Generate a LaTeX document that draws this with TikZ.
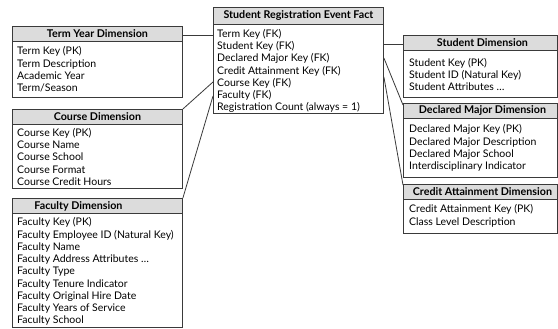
\documentclass[tikz,border=0pt]{standalone}
\usepackage{fontspec}
\setmainfont{Lato}
\usetikzlibrary{calc}
\definecolor{linec}{HTML}{3A3A3A}
\definecolor{headc}{HTML}{DCDCDC}
\newcommand{\bfnt}{\fontsize{10.5}{12.25}\selectfont}
\newcommand{\hfnt}{\fontsize{10.7}{12}\selectfont\bfseries}
\tikzset{
  boxframe/.style={draw=linec, line width=0.9pt, inner sep=0pt, anchor=north west},
  headbar/.style={draw=linec, fill=headc, line width=0.9pt, inner sep=0pt, anchor=north west, font=\hfnt},
  bodytext/.style={inner sep=0pt, anchor=north west, align=left, font=\bfnt, text=black},
  link/.style={draw=linec, line width=0.8pt}
}
\begin{document}
\begin{tikzpicture}[x=1pt,y=-1pt]
\useasboundingbox (0,0) rectangle (558,329);
\fill[white] (0,0) rectangle (558,329);

% Term Year Dimension
\node[boxframe, minimum width=170pt, minimum height=71pt] (term) at (12,26) {};
\node[headbar, minimum width=170pt, minimum height=15pt] (termh) at (12,26) {Term Year Dimension};
\node[bodytext] (termb) at (17,46.5) {Term Key (PK)\\Term Description\\Academic Year\\Term/Season};

% Course Dimension
\node[boxframe, minimum width=170pt, minimum height=79pt] (course) at (12,109) {};
\node[headbar, minimum width=170pt, minimum height=15pt] (courseh) at (12,109) {Course Dimension};
\node[bodytext] (courseb) at (17,128) {Course Key (PK)\\Course Name\\Course School\\Course Format\\Course Credit Hours};

% Faculty Dimension
\node[boxframe, minimum width=170pt, minimum height=129pt] (fac) at (12,198) {};
\node[headbar, minimum width=170pt, minimum height=15pt] (fach) at (12,198) {\hspace*{-38pt}Faculty Dimension};
\node[bodytext] (facb) at (17,217.5) {Faculty Key (PK)\\Faculty Employee ID (Natural Key)\\Faculty Name\\Faculty Address Attributes \ldots\\Faculty Type\\Faculty Tenure Indicator\\Faculty Original Hire Date\\Faculty Years of Service\\Faculty School};

% Fact
\node[boxframe, minimum width=170pt, minimum height=106pt] (fact) at (213,7) {};
\node[headbar, minimum width=170pt, minimum height=17pt] (facth) at (213,7) {Student Registration Event Fact};
\node[bodytext] (factb) at (217,29) {Term Key (FK)\\Student Key (FK)\\Declared Major Key (FK)\\Credit Attainment Key (FK)\\Course Key (FK)\\Faculty (FK)\\Registration Count (always = 1)};

% Student Dimension
\node[boxframe, minimum width=154pt, minimum height=62pt] (stud) at (403,35) {};
\node[headbar, minimum width=154pt, minimum height=15pt] (studh) at (403,35) {\hspace*{4pt}Student Dimension};
\node[bodytext] (studb) at (409,58) {Student Key (PK)\\Student ID (Natural Key)\\Student Attributes \ldots};

% Declared Major Dimension
\node[boxframe, minimum width=154pt, minimum height=74pt] (decl) at (403,103) {};
\node[headbar, minimum width=154pt, minimum height=15pt] (declh) at (403,103) {\hspace*{4pt}Declared Major Dimension};
\node[bodytext] (declb) at (409,124.5) {Declared Major Key (PK)\\Declared Major Description\\Declared Major School\\Interdisciplinary Indicator};

% Credit Attainment Dimension
\node[boxframe, minimum width=154pt, minimum height=49pt] (cred) at (403,184) {};
\node[headbar, minimum width=154pt, minimum height=15pt] (credh) at (403,184) {\hspace*{4pt}Credit Attainment Dimension};
\node[bodytext] (credb) at (409,204.5) {Credit Attainment Key (PK)\\Class Level Description};

% connection points on the fact box
\coordinate (fTerm) at ($(fact.north west)+(0,28)$);
\coordinate (fCourse) at ($(fact.north west)+(0,75)$);
\coordinate (fFac) at ($(fact.north west)+(0,89)$);
\coordinate (fStud) at ($(fact.north east)+(0,37)$);
\coordinate (fDecl) at ($(fact.north east)+(0,51)$);
\coordinate (fCred) at ($(fact.north east)+(0,70)$);
\coordinate (tTerm) at ($(term.north east)+(0,9)$);
\coordinate (tStud) at ($(stud.north west)+(0,9)$);
\coordinate (tDecl) at ($(decl.north west)+(0,2)$);
\coordinate (tCred) at ($(cred.north west)+(0,1)$);

\draw[link] (tTerm) -- (fTerm);
\draw[link] (course.north east) -- (fCourse);
\draw[link] (fac.north east) -- (fFac);
\draw[link] (fStud) -- (tStud);
\draw[link] (fDecl) -- (tDecl);
\draw[link] (fCred) -- (tCred);
\end{tikzpicture}
\end{document}
